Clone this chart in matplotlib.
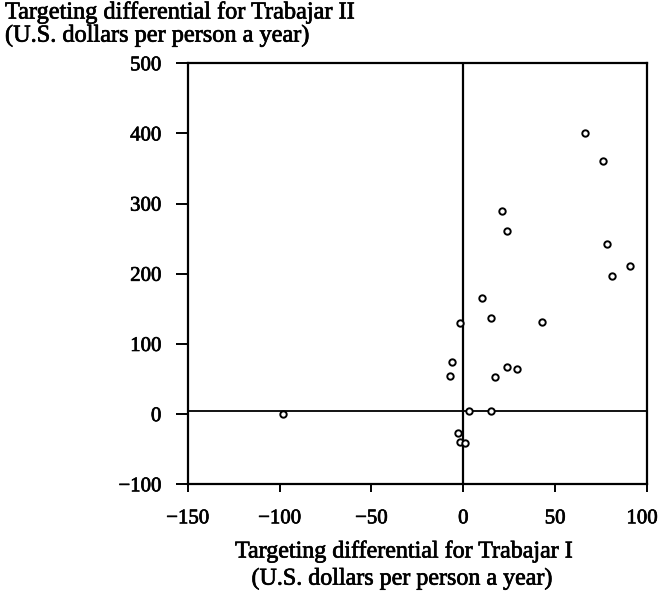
import matplotlib
matplotlib.use("Agg")
import matplotlib.pyplot as plt
import matplotlib.patheffects as pe
from matplotlib.transforms import ScaledTranslation

# Data (Trabajar I differential, Trabajar II differential), US$ per person a year
x_trabajar1 = [66, 76, 21, 24, 78, 91, 81, 10, 15, -2, 43, -6, -7, 24, 29, 17, -98, 3, 15, -3, -2, 1]
y_trabajar2 = [400, 361, 289, 261, 242, 211, 197, 166, 137, 130, 131, 75, 54, 67, 65, 53, 0, 4, 5, -27, -40, -41]

x_ticks = [-150, -100, -50, 0, 50, 100]
y_ticks = [-100, 0, 100, 200, 300, 400, 500]
x_ref = 0
y_ref = 4

plt.rcParams['font.family'] = ['Liberation Serif', 'DejaVu Serif']

thick = [pe.withStroke(linewidth=0.5, foreground='black')]

fig = plt.figure(figsize=(6.59, 5.95), dpi=100)
ax = fig.add_axes([187.7/659, 1 - 484.3/595, (647 - 187.7)/659, (484.3 - 63.3)/595])

ax.plot(x_trabajar1, y_trabajar2, linestyle='none', marker='o', markersize=4.6,
        markerfacecolor='white', markeredgecolor='black', markeredgewidth=1.4, zorder=3)
ax.axvline(x_ref, color='black', linewidth=1.6, zorder=2)
ax.axhline(y_ref, color='black', linewidth=1.3, zorder=2)

ax.set_xlim(-150, 100)
ax.set_ylim(-100, 500)
ax.set_xticks(x_ticks)
ax.set_yticks(y_ticks)
ax.set_xticklabels([f"{v}".replace('-', '\u2212') for v in x_ticks])
ax.set_yticklabels([f"{v}".replace('-', '\u2212') for v in y_ticks])
for s in ax.spines.values():
    s.set_linewidth(1.6)
ax.tick_params(axis='x', direction='out', length=6, width=1.4, pad=12, labelsize=15)
ax.tick_params(axis='y', direction='out', length=9, width=1.4, pad=10, labelsize=15)
for lab in ax.get_xticklabels() + ax.get_yticklabels():
    lab.set_path_effects(thick)
last = ax.get_xticklabels()[-1]
last.set_transform(last.get_transform() + ScaledTranslation(-5/100, 0, fig.dpi_scale_trans))

t1 = fig.text(5/659, 1 - 13/595, "Targeting differential for Trabajar II", fontsize=17.5,
              ha='left', va='center')
t2 = fig.text(5/659, 1 - 36/595, "(U.S. dollars per person a year)", fontsize=17.5,
              ha='left', va='center')
t3 = fig.text(404/659, 1 - 552/595, "Targeting differential for Trabajar I", fontsize=17.3,
              ha='center', va='center')
t4 = fig.text(402/659, 1 - 579/595, "(U.S. dollars per person a year)", fontsize=17.3,
              ha='center', va='center')
for t in (t1, t2, t3, t4):
    t.set_path_effects(thick)

fig.savefig("out.png", dpi=100)
